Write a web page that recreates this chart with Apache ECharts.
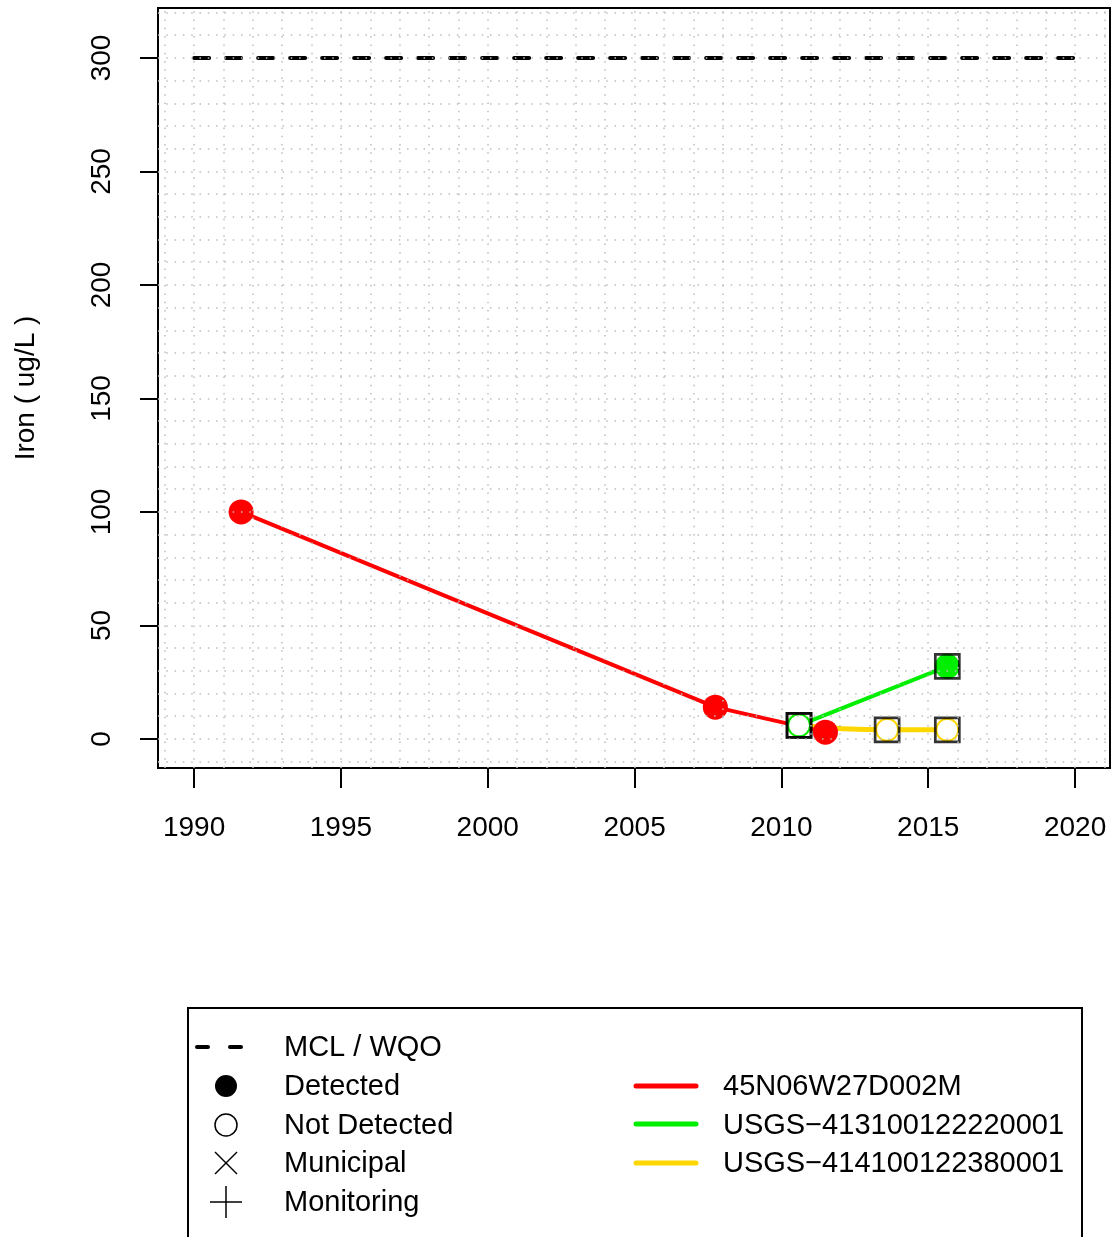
<!DOCTYPE html>
<html>
<head>
<meta charset="utf-8">
<script src="https://cdn.jsdelivr.net/npm/echarts@6/dist/echarts.min.js"></script>
<style>
  html, body { margin: 0; padding: 0; background: #fff; }
  #chart { width: 1112px; height: 1237px; }
</style>
</head>
<body>
<div id="chart"></div>
<script>
// data
const redYears = [1991.6, 2007.75, 2011.5];
const redValues = [100, 14, 3];
const redDetected = [true, true, true];

const greenYears = [2010.6, 2015.65];
const greenValues = [6, 32];
const greenDetected = [false, true];

const yellowYears = [2010.6, 2013.6, 2015.65];
const yellowValues = [6, 4, 4];
const yellowDetected = [false, false, false];

const mclYears = [1990, 2020];
const mclValue = 300;

const xTicks = [1990, 1995, 2000, 2005, 2010, 2015, 2020];
const yTicks = [0, 50, 100, 150, 200, 250, 300];
const gridYears = [];
for (let y = 1989; y <= 2021; y++) gridYears.push(y);
const gridValues = [];
for (let v = -10; v <= 320; v += 10) gridValues.push(v);

const FONT = "Liberation Sans";
const chart = echarts.init(document.getElementById("chart"), null, { renderer: "canvas" });

function pts(xs, ys, det, color) {
  return xs.map((x, i) => ({
    value: [x, ys[i]],
    symbol: det[i] ? "circle" : "emptyCircle",
    symbolSize: det[i] ? 25 : 22,
    itemStyle: det[i] ? { color: color } : { color: color, borderColor: color, borderWidth: 2.5 },
  }));
}

function siteSeries(name, xs, ys, det, color, width, smooth) {
  return {
    name: name,
    type: "line",
    data: pts(xs, ys, det, color),
    smooth: smooth,
    lineStyle: { color: color, width: width },
    itemStyle: { color: color },
    z: 3,
  };
}

// boxes around the USGS points
const boxed = greenYears.map((x, i) => [x, greenValues[i]])
  .concat(yellowYears.map((x, i) => [x, yellowValues[i]]));

chart.setOption({
  animation: false,
  grid: {
    left: 158, top: 8, width: 952, height: 760,
    show: true, borderColor: "#000", borderWidth: 2, backgroundColor: "transparent",
  },
  xAxis: {
    type: "value",
    min: 1988.77, max: 2021.19,
    axisLine: { show: false, onZero: false },
    splitLine: { show: false },
    axisTick: { show: true, inside: false, customValues: xTicks, length: 20, lineStyle: { color: "#000", width: 2 } },
    axisLabel: {
      customValues: xTicks, margin: 46, fontSize: 28, fontFamily: FONT, color: "#000",
      formatter: (v) => String(v),
    },
  },
  yAxis: {
    type: "value",
    min: -12.8, max: 322,
    name: "Iron ( ug/L )",
    nameLocation: "middle",
    nameRotate: 90,
    nameGap: 118,
    nameTextStyle: { fontSize: 28, fontFamily: FONT, color: "#000" },
    axisLine: { show: false, onZero: false },
    splitLine: { show: false },
    axisTick: { show: true, inside: false, customValues: yTicks, length: 18, lineStyle: { color: "#000", width: 2 } },
    axisLabel: { customValues: yTicks, rotate: 90, margin: 42, fontSize: 28, fontFamily: FONT, color: "#000" },
  },
  series: [
    {
      name: "grid",
      type: "line",
      data: [],
      silent: true,
      markLine: {
        silent: true,
        symbol: "none",
        label: { show: false },
        lineStyle: { color: "#bdbdbd", type: [1.5, 6.8], width: 1.5 },
        data: gridYears.map((y) => ({ xAxis: y })).concat(gridValues.map((v) => ({ yAxis: v }))),
      },
      z: 1,
    },
    {
      name: "MCL / WQO",
      type: "line",
      data: mclYears.map((x) => [x, mclValue]),
      symbol: "none",
      lineStyle: { color: "#000", width: 4, type: [15, 17], cap: "round" },
      z: 2,
    },
    siteSeries("USGS-414100122380001", yellowYears, yellowValues, yellowDetected, "#ffd700", 5, 0.5),
    siteSeries("USGS-413100122220001", greenYears, greenValues, greenDetected, "#00ee00", 4, false),
    siteSeries("45N06W27D002M", redYears, redValues, redDetected, "#ff0000", 4, false),
    {
      name: "boxes",
      type: "scatter",
      data: boxed,
      symbol: "rect",
      symbolSize: 24,
      itemStyle: { color: "transparent", borderColor: "#000", borderWidth: 2.7 },
      z: 4,
    },
  ],
  graphic: [
    {
      type: "rect",
      shape: { x: 188, y: 1008, width: 894, height: 260 },
      style: { fill: "#fff", stroke: "#000", lineWidth: 2 },
    },
    // left column
    { type: "line", shape: { x1: 197, y1: 1047, x2: 241, y2: 1047 }, style: { stroke: "#000", lineWidth: 4, lineDash: [11, 22], lineCap: "round" } },
    { type: "circle", shape: { cx: 226, cy: 1086, r: 11 }, style: { fill: "#000" } },
    { type: "circle", shape: { cx: 226, cy: 1125, r: 11 }, style: { fill: "none", stroke: "#000", lineWidth: 1.5 } },
    { type: "line", shape: { x1: 215, y1: 1152, x2: 237, y2: 1174 }, style: { stroke: "#000", lineWidth: 1.5 } },
    { type: "line", shape: { x1: 215, y1: 1174, x2: 237, y2: 1152 }, style: { stroke: "#000", lineWidth: 1.5 } },
    { type: "line", shape: { x1: 210, y1: 1202, x2: 242, y2: 1202 }, style: { stroke: "#000", lineWidth: 1.5 } },
    { type: "line", shape: { x1: 226, y1: 1186, x2: 226, y2: 1218 }, style: { stroke: "#000", lineWidth: 1.5 } },
    { type: "text", x: 284, y: 1048, style: { text: "MCL / WQO", font: "29px " + FONT, fill: "#000", verticalAlign: "middle" } },
    { type: "text", x: 284, y: 1087, style: { text: "Detected", font: "29px " + FONT, fill: "#000", verticalAlign: "middle" } },
    { type: "text", x: 284, y: 1126, style: { text: "Not Detected", font: "29px " + FONT, fill: "#000", verticalAlign: "middle" } },
    { type: "text", x: 284, y: 1164, style: { text: "Municipal", font: "29px " + FONT, fill: "#000", verticalAlign: "middle" } },
    { type: "text", x: 284, y: 1203, style: { text: "Monitoring", font: "29px " + FONT, fill: "#000", verticalAlign: "middle" } },
    // right column
    { type: "line", shape: { x1: 636, y1: 1086, x2: 696, y2: 1086 }, style: { stroke: "#ff0000", lineWidth: 5, lineCap: "round" } },
    { type: "line", shape: { x1: 636, y1: 1124, x2: 696, y2: 1124 }, style: { stroke: "#00ee00", lineWidth: 5, lineCap: "round" } },
    { type: "line", shape: { x1: 636, y1: 1163, x2: 696, y2: 1163 }, style: { stroke: "#ffd700", lineWidth: 5, lineCap: "round" } },
    { type: "text", x: 723, y: 1087, style: { text: "45N06W27D002M", font: "29px " + FONT, fill: "#000", verticalAlign: "middle" } },
    { type: "text", x: 723, y: 1126, style: { text: "USGS\u2212413100122220001", font: "29px " + FONT, fill: "#000", verticalAlign: "middle" } },
    { type: "text", x: 723, y: 1164, style: { text: "USGS\u2212414100122380001", font: "29px " + FONT, fill: "#000", verticalAlign: "middle" } },
  ],
});
</script>
</body>
</html>
